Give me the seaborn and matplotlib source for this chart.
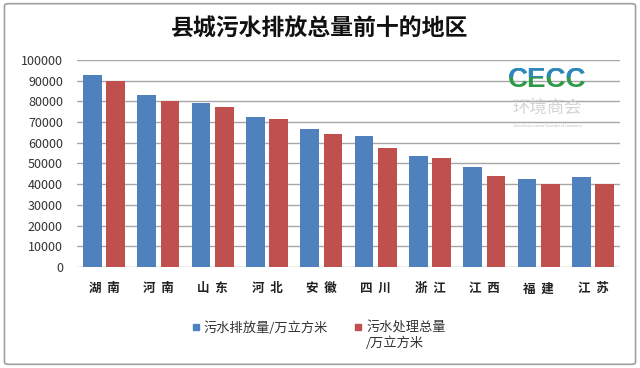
import pandas as pd
import seaborn as sns
import matplotlib.pyplot as plt
from matplotlib.lines import Line2D
from matplotlib.patches import FancyBboxPatch
from matplotlib.transforms import Bbox, TransformedBbox

# Data
regions = ['湖南', '河南', '山东', '河北', '安徽', '四川', '浙江', '江西', '福建', '江苏']
discharge = [92700, 82900, 79400, 72600, 66900, 63400, 53700, 48100, 42400, 43400]
treated = [89800, 80200, 77300, 71600, 64400, 57700, 52700, 43900, 40200, 40000]
series_names = ['污水排放量/万立方米', '污水处理总量\n/万立方米']
colors = ['#4F81BD', '#C0504D']
y_ticks = list(range(0, 100001, 10000))

# Long-form table for seaborn
df = pd.DataFrame({
    'region': regions * 2,
    'value': discharge + treated,
    'series': [series_names[0]] * len(regions) + [series_names[1]] * len(regions),
})

sns.set_theme(style='white')
plt.rcParams['font.family'] = ['Noto Sans CJK SC', 'DejaVu Sans']

fig = plt.figure(figsize=(6.4, 3.68), dpi=100)
ax = fig.add_axes([0.12, 0.2745, 0.849, 0.5625])

sns.barplot(data=df, x='region', y='value', hue='series', ax=ax,
            palette=colors, width=0.86, gap=0.2,
            linewidth=0, saturation=1, legend=False)

ax.set_ylim(0, 100000)
ax.set_yticks(y_ticks)
ax.set_yticklabels([str(v) for v in y_ticks], fontsize=9, color='#333333')
ax.set_xticks(range(len(regions)))
ax.set_xticklabels(['  '.join(r) for r in regions], fontsize=9, fontweight='bold', color='#222222')
ax.tick_params(axis='x', pad=11, length=0)
ax.tick_params(axis='y', pad=10, length=0)
ax.set_xlabel('')
ax.set_ylabel('')
ax.grid(axis='y', color='#A6A6A6', linewidth=1)
ax.set_axisbelow(True)
for side in ['top', 'right', 'left', 'bottom']:
    ax.spines[side].set_visible(False)

# Legend under the plot, entries aligned on their first line
handles = [Line2D([], [], marker='s', linestyle='', color=c, markersize=5) for c in colors]
leg = fig.legend(handles, series_names, loc='upper left', bbox_to_anchor=(0.281, 0.158),
                 ncol=2, frameon=False, fontsize=9.5, handlelength=0.6, handleheight=1.2,
                 handletextpad=0.3, columnspacing=2.0, labelspacing=0.1,
                 labelcolor='#333333')
leg._legend_handle_box.align = 'top'
for col in leg._legend_handle_box.get_children():
    for row in col.get_children():
        row.align = 'top'

# Title
fig.text(0.5, 0.921, '县城污水排放总量前十的地区', ha='center', va='center',
         fontsize=16.5, fontweight='bold', color='#111111')

# Watermark logo
logo_font = ['Liberation Sans']
t_green = fig.text(0.855, 0.783, 'CECC', ha='center', va='center', fontsize=20,
                   fontweight='bold', color='#2E9A48', family=logo_font)
t_blue = fig.text(0.855, 0.783, 'CECC', ha='center', va='center', fontsize=20,
                  fontweight='bold', color='#2F86C6', family=logo_font)
t_blue.set_clip_box(TransformedBbox(Bbox([[0.7, 0.79], [1.0, 0.9]]), fig.transFigure))
t_blue.set_clip_on(True)
fig.text(0.855, 0.707, '环境商会', ha='center', va='center', fontsize=12.5, color='#D4D4D4')
fig.text(0.855, 0.658, 'China Environment Chamber of Commerce', ha='center', va='center',
         fontsize=2.5, color='#BBBBBB')

# Outer chart frame
fig.patches.append(FancyBboxPatch((0.007, 0.01), 0.986, 0.98, boxstyle='round,pad=0,rounding_size=0.006',
                                  transform=fig.transFigure, fill=False,
                                  edgecolor='#A0A0A0', linewidth=1.2))

plt.savefig('out.png', dpi=100)
